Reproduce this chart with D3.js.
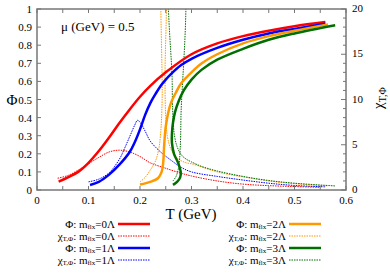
<!DOCTYPE html>
<html>
  <head>
    <script src="https://d3js.org/d3.v7.min.js"></script>
    <style>
      body { margin: 0; background: #fff; }
    </style>
  </head>
  <body>
    <div id="chart"></div>
    <script>
      // Phi curves (left axis)
      var phiRedT = [0.042, 0.06, 0.08, 0.1, 0.12, 0.14, 0.16, 0.18, 0.2, 0.22, 0.25, 0.3, 0.35, 0.4, 0.45, 0.5, 0.56];
      var phiRedV = [0.046, 0.07, 0.1, 0.15, 0.215, 0.29, 0.37, 0.445, 0.515, 0.575, 0.65, 0.75, 0.81, 0.85, 0.88, 0.905, 0.928];
      var phiBlueT = [0.103, 0.12, 0.14, 0.16, 0.18, 0.19, 0.2, 0.21, 0.22, 0.23, 0.24, 0.25, 0.26, 0.28, 0.3, 0.35, 0.4, 0.45, 0.5, 0.56];
      var phiBlueV = [0.028, 0.045, 0.085, 0.14, 0.21, 0.265, 0.335, 0.415, 0.48, 0.53, 0.575, 0.61, 0.64, 0.69, 0.725, 0.785, 0.83, 0.865, 0.89, 0.918];
      var phiOrangeT = [0.2, 0.22, 0.235, 0.242, 0.245, 0.247, 0.25, 0.255, 0.26, 0.27, 0.28, 0.3, 0.32, 0.35, 0.4, 0.45, 0.5, 0.565];
      var phiOrangeV = [0.03, 0.045, 0.065, 0.1, 0.15, 0.25, 0.35, 0.43, 0.48, 0.54, 0.59, 0.65, 0.70, 0.75, 0.81, 0.85, 0.88, 0.915];
      var phiGreenT = [0.264, 0.272, 0.278, 0.279, 0.274, 0.266, 0.262, 0.262, 0.264, 0.268, 0.275, 0.285, 0.30, 0.32, 0.35, 0.4, 0.45, 0.5, 0.579];
      var phiGreenV = [0.028, 0.045, 0.07, 0.1, 0.15, 0.2, 0.26, 0.31, 0.37, 0.43, 0.49, 0.55, 0.61, 0.665, 0.72, 0.78, 0.83, 0.865, 0.91];

      // chi curves (right axis)
      var chiRedT = [0.04, 0.06, 0.08, 0.1, 0.12, 0.14, 0.16, 0.18, 0.2, 0.22, 0.25, 0.28, 0.3, 0.35, 0.4, 0.45, 0.5, 0.55];
      var chiRedV = [1.3, 1.6, 2.2, 2.9, 3.6, 4.2, 4.4, 4.2, 3.7, 3.0, 2.4, 1.85, 1.55, 1.0, 0.65, 0.48, 0.38, 0.3];
      var chiBlueT = [0.1, 0.12, 0.14, 0.16, 0.17, 0.18, 0.19, 0.195, 0.2, 0.21, 0.22, 0.24, 0.26, 0.28, 0.3, 0.35, 0.4, 0.45, 0.5, 0.56];
      var chiBlueV = [0.9, 1.2, 1.9, 3.4, 4.6, 5.9, 7.2, 7.7, 7.5, 6.5, 5.4, 4.2, 3.3, 2.5, 2.0, 1.5, 1.1, 0.75, 0.5, 0.35];
      var chiOrangeT = [0.2, 0.21, 0.22, 0.23, 0.236, 0.24, 0.243, 0.2445, 0.248, 0.2485, 0.25, 0.253, 0.258, 0.265, 0.275, 0.29, 0.3, 0.35, 0.4, 0.45, 0.5, 0.565];
      var chiOrangeV = [0.9, 1.4, 2.2, 3.2, 4.4, 6.2, 10, 25, 25, 12, 8, 6, 4.8, 4.0, 3.4, 3.0, 2.9, 2.0, 1.45, 1.0, 0.7, 0.45];
      var chiGreenT = [0.264, 0.27, 0.275, 0.278, 0.2795, 0.2805, 0.262, 0.2625, 0.264, 0.267, 0.272, 0.28, 0.29, 0.3, 0.32, 0.35, 0.4, 0.45, 0.5, 0.579];
      var chiGreenV = [1.0, 1.5, 2.5, 4.5, 8, 25, 25, 12, 8, 6, 4.8, 3.9, 3.4, 3.1, 2.6, 2.1, 1.5, 1.05, 0.75, 0.45];

      var xTicks = [0, 0.1, 0.2, 0.3, 0.4, 0.5, 0.6];
      var yTicks = [0, 0.1, 0.2, 0.3, 0.4, 0.5, 0.6, 0.7, 0.8, 0.9, 1];
      var y2Ticks = [0, 5, 10, 15, 20];

      var colors = { red: "#ff0000", blue: "#0000ff", orange: "#ff9900", green: "#006f00" };
      var serif = "'Liberation Serif', 'Times New Roman', serif";

      var svg = d3.select("#chart").append("svg")
        .attr("width", 390)
        .attr("height", 273)
        .attr("font-family", serif)
        .style("font-family", serif);

      var x = d3.scaleLinear().domain([0, 0.6]).range([37, 346]);
      var y = d3.scaleLinear().domain([0, 1]).range([190, 9]);
      var y2 = d3.scaleLinear().domain([0, 20]).range([190, 9]);

      svg.append("clipPath").attr("id", "clip")
        .append("rect").attr("x", 37).attr("y", 9).attr("width", 309).attr("height", 181);

      function zip(ts, vs) { return ts.map(function(t, i) { return [t, vs[i]]; }); }

      var phiLine = d3.line().x(function(d) { return x(d[0]); }).y(function(d) { return y(d[1]); })
        .curve(d3.curveCatmullRom.alpha(0.5));
      var chiLine = d3.line().x(function(d) { return x(d[0]); }).y(function(d) { return y2(d[1]); })
        .curve(d3.curveCatmullRom.alpha(0.5));

      var plot = svg.append("g").attr("clip-path", "url(#clip)");

      var chiSeries = [
        [chiRedT, chiRedV, colors.red],
        [chiBlueT, chiBlueV, colors.blue],
        [chiOrangeT, chiOrangeV, colors.orange],
        [chiGreenT, chiGreenV, colors.green]
      ];
      chiSeries.forEach(function(s) {
        plot.append("path")
          .attr("d", chiLine(zip(s[0], s[1])))
          .attr("fill", "none")
          .attr("stroke", s[2])
          .attr("stroke-width", 1)
          .attr("stroke-dasharray", "1.5,1");
      });

      var phiSeries = [
        [phiRedT, phiRedV, colors.red],
        [phiBlueT, phiBlueV, colors.blue],
        [phiOrangeT, phiOrangeV, colors.orange],
        [phiGreenT, phiGreenV, colors.green]
      ];
      phiSeries.forEach(function(s) {
        plot.append("path")
          .attr("d", phiLine(zip(s[0], s[1])))
          .attr("fill", "none")
          .attr("stroke", s[2])
          .attr("stroke-width", 2.5);
      });

      // frame and ticks
      var axisColor = "#777";
      svg.append("rect").attr("x", 37).attr("y", 9).attr("width", 309).attr("height", 181)
        .attr("fill", "none").attr("stroke", axisColor).attr("stroke-width", 1.5);

      var xMinor = d3.range(0, 0.601, 0.05);
      xMinor.forEach(function(t) {
        svg.append("line").attr("x1", x(t)).attr("x2", x(t)).attr("y1", 190).attr("y2", 186)
          .attr("stroke", axisColor);
        svg.append("line").attr("x1", x(t)).attr("x2", x(t)).attr("y1", 9).attr("y2", 13)
          .attr("stroke", axisColor);
      });
      yTicks.forEach(function(v) {
        svg.append("line").attr("x1", 37).attr("x2", 41).attr("y1", y(v)).attr("y2", y(v))
          .attr("stroke", axisColor);
      });
      d3.range(0, 21, 1).forEach(function(v) {
        svg.append("line").attr("x1", 346).attr("x2", v % 5 === 0 ? 341 : 343).attr("y1", y2(v)).attr("y2", y2(v))
          .attr("stroke", axisColor);
      });

      svg.selectAll(".xl").data(xTicks).enter().append("text")
        .attr("x", function(d) { return x(d); }).attr("y", 204)
        .attr("text-anchor", "middle").attr("font-size", 11)
        .text(function(d) { return d; });
      svg.selectAll(".yl").data(yTicks).enter().append("text")
        .attr("x", 32).attr("y", function(d) { return y(d) + 4; })
        .attr("text-anchor", "end").attr("font-size", 11)
        .text(function(d) { return d; });
      svg.selectAll(".y2l").data(y2Ticks).enter().append("text")
        .attr("x", 352).attr("y", function(d) { return y2(d) + 3; })
        .attr("font-size", 11)
        .text(function(d) { return d; });

      // axis titles
      svg.append("text").attr("x", 191).attr("y", 219).attr("text-anchor", "middle")
        .attr("font-size", 15).text("T (GeV)");
      svg.append("text").attr("x", 12).attr("y", 105).attr("text-anchor", "middle")
        .attr("font-size", 15).text("Φ");
      var r = svg.append("text").attr("transform", "translate(383,98) rotate(-90)").attr("text-anchor", "middle")
        .attr("font-size", 15);
      r.append("tspan").text("χ");
      r.append("tspan").attr("font-size", 10).attr("dy", 3).text("T,Φ");

      svg.append("text").attr("x", 61).attr("y", 31).attr("font-size", 13).text("μ (GeV) = 0.5");

      // legend
      var legendPhi = ["0Λ", "1Λ", "2Λ", "3Λ"];
      var legendColors = [colors.red, colors.blue, colors.orange, colors.green];
      var rows = [224, 236, 248, 260];
      legendPhi.forEach(function(lab, i) {
        var col = i < 2 ? 0 : 1;
        var tx = col === 0 ? 115 : 286;
        var lx = col === 0 ? 118 : 289;
        [0, 1].forEach(function(k) {
          var ry = rows[(i % 2) * 2 + k];
          var t = svg.append("text").attr("x", tx).attr("y", ry + 3.5).attr("text-anchor", "end").attr("font-size", 11);
          if (k === 0) {
            t.append("tspan").text("Φ: m");
          } else {
            t.append("tspan").text("χ");
            t.append("tspan").attr("font-size", 7).attr("dy", 1.5).text("T,Φ");
            t.append("tspan").attr("dy", -1.5).text(": m");
          }
          t.append("tspan").attr("font-size", 7).attr("dy", 1.5).text("flx");
          t.append("tspan").attr("dy", -1.5).text("=" + lab);
          svg.append("line").attr("x1", lx).attr("x2", lx + 32).attr("y1", ry).attr("y2", ry)
            .attr("stroke", legendColors[i])
            .attr("stroke-width", k === 0 ? 2.5 : 1)
            .attr("stroke-dasharray", k === 0 ? null : "1.5,1");
        });
      });
    </script>
  </body>
</html>
